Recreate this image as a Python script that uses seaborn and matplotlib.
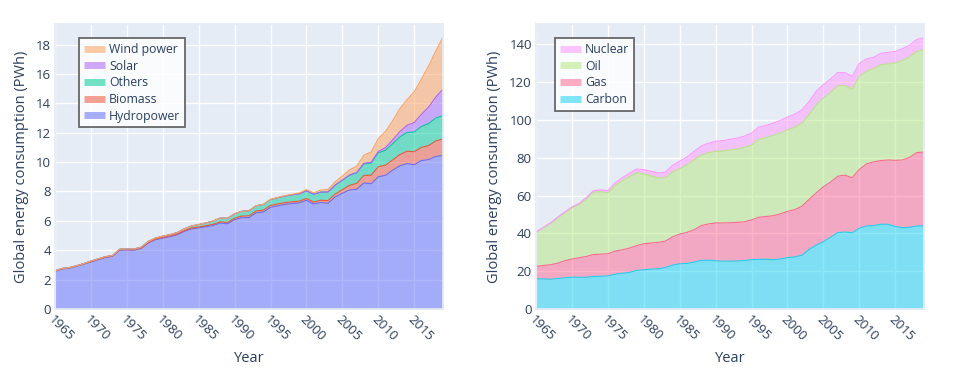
import numpy as np
import pandas as pd
import seaborn as sns
import matplotlib.pyplot as plt
from matplotlib.lines import Line2D

years = list(range(1965, 2020))

# renewables (PWh)
hydropower = [2.56, 2.72, 2.78, 2.90, 3.05, 3.20, 3.35, 3.50, 3.58, 4.00,
              4.02, 4.00, 4.12, 4.50, 4.72, 4.82, 4.92, 5.05, 5.28, 5.45,
              5.52, 5.60, 5.68, 5.85, 5.80, 6.08, 6.22, 6.22, 6.55, 6.60,
              6.92, 7.02, 7.12, 7.18, 7.22, 7.40, 7.15, 7.25, 7.20, 7.62,
              7.88, 8.10, 8.15, 8.58, 8.52, 9.00, 9.10, 9.45, 9.75, 9.90,
              9.82, 10.10, 10.17, 10.38, 10.45]
biomass = [0.02, 0.02, 0.02, 0.02, 0.02, 0.03, 0.03, 0.03, 0.03, 0.03,
           0.03, 0.03, 0.04, 0.04, 0.04, 0.05, 0.05, 0.05, 0.05, 0.06,
           0.06, 0.07, 0.08, 0.09, 0.09, 0.10, 0.11, 0.12, 0.12, 0.13,
           0.13, 0.13, 0.12, 0.12, 0.12, 0.12, 0.13, 0.15, 0.18, 0.20,
           0.24, 0.32, 0.40, 0.52, 0.58, 0.68, 0.69, 0.70, 0.76, 0.84,
           0.88, 0.90, 0.95, 1.06, 1.12]
others = [0.02, 0.02, 0.02, 0.02, 0.02, 0.03, 0.03, 0.03, 0.03, 0.04,
          0.04, 0.05, 0.05, 0.06, 0.07, 0.08, 0.09, 0.10, 0.12, 0.14,
          0.17, 0.19, 0.22, 0.25, 0.28, 0.30, 0.32, 0.34, 0.36, 0.38,
          0.40, 0.42, 0.45, 0.47, 0.50, 0.52, 0.53, 0.55, 0.58, 0.61,
          0.64, 0.68, 0.72, 0.78, 0.83, 0.95, 1.02, 1.10, 1.20, 1.28,
          1.35, 1.42, 1.50, 1.55, 1.60]
solar = [0.0] * 35 + [0.0, 0.0, 0.01, 0.01, 0.01,
                      0.01, 0.02, 0.02, 0.04, 0.05,
                      0.09, 0.17, 0.26, 0.36, 0.48,
                      0.64, 0.83, 1.12, 1.44, 1.79]
wind = [0.0] * 30 + [0.01, 0.02, 0.03, 0.04, 0.06,
                     0.09, 0.10, 0.14, 0.17, 0.22,
                     0.28, 0.35, 0.43, 0.56, 0.70,
                     0.88, 1.10, 1.30, 1.56, 1.75,
                     2.09, 2.40, 2.80, 3.13, 3.54]

# fossil + nuclear (PWh)
carbon = [15.9, 15.9, 15.75, 16.1, 16.5, 16.8, 16.8, 16.8, 17.2, 17.3,
          17.5, 18.4, 18.9, 19.3, 20.4, 20.7, 21.1, 21.2, 21.9, 23.2,
          23.9, 24.1, 24.8, 25.7, 25.8, 25.5, 25.3, 25.3, 25.4, 25.6,
          26.1, 26.2, 26.3, 26.1, 26.4, 27.2, 27.5, 28.4, 31.5, 33.8,
          35.6, 37.9, 40.4, 40.7, 40.3, 42.7, 43.9, 44.1, 44.8, 44.8,
          43.6, 43.0, 43.2, 43.9, 43.9]
gas = [6.6, 7.1, 7.65, 8.1, 9.0, 9.6, 10.3, 11.0, 11.6, 11.7,
       11.7, 12.2, 12.4, 12.9, 13.1, 13.8, 13.8, 14.0, 14.0, 14.9,
       15.7, 16.4, 17.1, 18.4, 19.2, 20.0, 20.2, 20.3, 20.4, 20.5,
       21.0, 22.3, 22.6, 23.2, 23.9, 24.4, 25.0, 25.9, 26.4, 27.6,
       29.0, 29.2, 29.8, 30.1, 29.1, 31.1, 32.8, 33.7, 33.7, 34.0,
       35.0, 35.8, 37.0, 38.8, 39.1]
oil = [18.0, 19.8, 21.7, 23.9, 25.3, 27.1, 28.1, 30.4, 33.0, 33.0,
       32.2, 34.7, 36.5, 37.7, 38.5, 37.0, 35.4, 34.0, 33.5, 34.3,
       34.6, 35.6, 36.9, 37.3, 37.7, 37.9, 38.0, 38.5, 38.8, 39.3,
       39.6, 41.2, 41.7, 42.5, 42.7, 43.1, 43.6, 43.9, 44.8, 46.6,
       46.9, 47.4, 47.9, 47.3, 46.9, 49.2, 49.0, 49.3, 50.7, 50.8,
       51.5, 52.6, 53.1, 53.5, 53.9]
nuclear = [0.3, 0.35, 0.4, 0.45, 0.5, 0.5, 0.6, 0.7, 0.8, 1.0,
           1.2, 1.3, 1.6, 1.9, 2.0, 2.2, 2.5, 2.7, 3.0, 3.5,
           4.0, 4.2, 4.5, 4.8, 5.0, 5.3, 5.5, 5.6, 5.8, 6.0,
           6.3, 6.5, 6.4, 6.5, 6.7, 6.8, 6.9, 7.0, 6.9, 7.1,
           7.1, 7.1, 6.9, 6.9, 6.7, 6.8, 6.5, 6.0, 6.0, 6.1,
           6.1, 6.2, 6.2, 6.3, 6.5]

left_names = ['Hydropower', 'Biomass', 'Others', 'Solar', 'Wind power']
left_colors = ['#636efa', '#EF553B', '#00cc96', '#ab63fa', '#FFA15A']
right_names = ['Carbon', 'Gas', 'Oil', 'Nuclear']
right_colors = ['#19d3f3', '#FF6692', '#B6E880', '#FF97FF']

df_left = pd.DataFrame({'Year': years, 'Hydropower': hydropower, 'Biomass': biomass,
                        'Others': others, 'Solar': solar, 'Wind power': wind})
df_right = pd.DataFrame({'Year': years, 'Carbon': carbon, 'Gas': gas,
                         'Oil': oil, 'Nuclear': nuclear})

sns.set_theme(style='darkgrid', rc={
    'axes.facecolor': '#E5ECF6',
    'grid.color': 'white',
    'grid.linewidth': 1.0,
    'axes.edgecolor': '#E5ECF6',
    'text.color': '#2a3f5f',
    'axes.labelcolor': '#2a3f5f',
    'xtick.color': '#2a3f5f',
    'ytick.color': '#2a3f5f',
})
plt.rcParams['font.family'] = ['Open Sans', 'DejaVu Sans']

fig = plt.figure(figsize=(9.68, 3.69), dpi=100)
ax1 = fig.add_axes([0.0568, 0.1626, 0.4008, 0.7724])
ax2 = fig.add_axes([0.5537, 0.1626, 0.4008, 0.7724])


def stacked(ax, df, names, colors, ymax, yticks, leg_x):
    base = np.zeros(len(df))
    for name, col in zip(names, colors):
        top = base + df[name].to_numpy()
        ax.fill_between(df['Year'], base, top, color=col, alpha=0.5, lw=0)
        sns.lineplot(x=df['Year'], y=top, color=col, lw=0.8, ax=ax)
        base = top
    ax.set_xlim(1965, 2019)
    ax.set_ylim(0, ymax)
    ax.set_xticks(range(1965, 2016, 5))
    ax.set_yticks(yticks)
    ax.tick_params(axis='both', labelsize=9.5, length=0, pad=3)
    for lab in ax.get_xticklabels():
        lab.set_rotation(-45)
        lab.set_ha('left')
        lab.set_va('top')
        lab.set_rotation_mode('anchor')
    ax.set_xlabel('Year', fontsize=10.5, labelpad=5)
    ax.set_ylabel('Global energy consumption (PWh)', fontsize=10.5, labelpad=5)
    handles = [Line2D([0], [0], color=c, alpha=0.55, lw=5, solid_capstyle='butt')
               for c in colors][::-1]
    leg = ax.legend(handles, names[::-1], loc='upper left',
                    bbox_to_anchor=(leg_x, 0.951), borderaxespad=0,
                    fontsize=8.8, handlelength=1.75, handletextpad=0.3,
                    labelspacing=0.3, borderpad=0.4, fancybox=False)
    fr = leg.get_frame()
    fr.set_facecolor((1, 1, 1, 0.75))
    fr.set_edgecolor('#444444')
    fr.set_linewidth(1.3)


stacked(ax1, df_left, left_names, left_colors, 19.4, range(0, 19, 2), 0.062)
stacked(ax2, df_right, right_names, right_colors, 150.7, range(0, 141, 20), 0.049)

fig.savefig('out.png', dpi=100)
